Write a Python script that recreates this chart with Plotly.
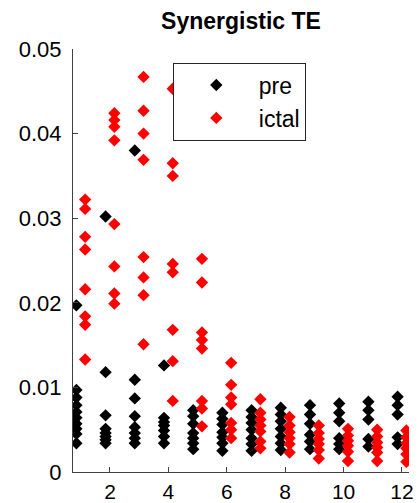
import plotly.graph_objects as go

groups = list(range(1, 13))

pre_values = [
    [0.0197, 0.0097, 0.0088, 0.0079, 0.0071, 0.0064, 0.0057, 0.0051, 0.0045, 0.0034],
    [0.0302, 0.0118, 0.0067, 0.0051, 0.0046, 0.0042, 0.0038, 0.0034],
    [0.0380, 0.0109, 0.0087, 0.0066, 0.0053, 0.0046, 0.0040, 0.0034],
    [0.0126, 0.0064, 0.0059, 0.0055, 0.0049, 0.0042, 0.0034],
    [0.0073, 0.0066, 0.0057, 0.0046, 0.0040, 0.0034, 0.0027],
    [0.0070, 0.0063, 0.0056, 0.0047, 0.0041, 0.0034, 0.0025],
    [0.0073, 0.0065, 0.0058, 0.0050, 0.0040, 0.0033, 0.0025],
    [0.0076, 0.0068, 0.0060, 0.0051, 0.0042, 0.0034, 0.0026],
    [0.0079, 0.0068, 0.0057, 0.0044, 0.0036, 0.0027],
    [0.0081, 0.0070, 0.0060, 0.0040, 0.0033, 0.0027],
    [0.0083, 0.0073, 0.0062, 0.0039, 0.0030],
    [0.0089, 0.0079, 0.0068, 0.0041, 0.0033],
]

ictal_values = [
    [0.0322, 0.0311, 0.0278, 0.0263, 0.0216, 0.0184, 0.0174, 0.0133],
    [0.0424, 0.0416, 0.0408, 0.0392, 0.0293, 0.0243, 0.0211, 0.0199],
    [0.0467, 0.0427, 0.0400, 0.0369, 0.0254, 0.0230, 0.0209, 0.0151],
    [0.0453, 0.0365, 0.0350, 0.0246, 0.0236, 0.0168, 0.0131, 0.0084],
    [0.0252, 0.0224, 0.0165, 0.0156, 0.0146, 0.0084, 0.0075, 0.0054],
    [0.0129, 0.0103, 0.0088, 0.0080, 0.0058, 0.0050, 0.0040],
    [0.0086, 0.0070, 0.0062, 0.0055, 0.0048, 0.0036, 0.0028],
    [0.0065, 0.0055, 0.0047, 0.0040, 0.0033, 0.0023],
    [0.0055, 0.0046, 0.0039, 0.0033, 0.0026, 0.0016],
    [0.0051, 0.0043, 0.0037, 0.0031, 0.0024, 0.0013],
    [0.0050, 0.0042, 0.0035, 0.0029, 0.0023, 0.0013],
    [0.0049, 0.0041, 0.0034, 0.0028, 0.0021, 0.0012],
]

x_ticks = [2, 4, 6, 8, 10, 12]
y_ticks = [0, 0.01, 0.02, 0.03, 0.04, 0.05]
y_tick_labels = ["0", "0.01", "0.02", "0.03", "0.04", "0.05"]

OFFSET = 0.15
FONT = "Arial, Liberation Sans, sans-serif"
AXIS_COLOR = "#404040"


def flatten(vals, shift):
    xs, ys = [], []
    for g, arr in zip(groups, vals):
        for v in arr:
            xs.append(g + shift)
            ys.append(v)
    return xs, ys


px, py = flatten(pre_values, -OFFSET)
ix, iy = flatten(ictal_values, OFFSET)

fig = go.Figure()
fig.add_trace(go.Scatter(x=px, y=py, mode="markers", name="pre",
                         marker=dict(symbol="diamond", size=9.5, color="black",
                                     line=dict(width=0))))
fig.add_trace(go.Scatter(x=ix, y=iy, mode="markers", name="ictal",
                         marker=dict(symbol="diamond", size=9.5, color="#ff0000",
                                     line=dict(width=0))))

fig.update_layout(
    width=418, height=503,
    margin=dict(l=73, r=9, t=49, b=31, autoexpand=False),
    paper_bgcolor="white", plot_bgcolor="white",
    font=dict(family=FONT, size=22, color="black"),
    title=dict(text="<b>Synergistic TE</b>", x=241 / 418, xanchor="center",
               y=1 - 21 / 503, yanchor="middle", yref="container",
               font=dict(size=23, family=FONT, color="black")),
    showlegend=True,
    legend=dict(x=0.297, y=0.968, xanchor="left", yanchor="top",
                bgcolor="white", bordercolor="#262626", borderwidth=1,
                font=dict(size=23, family=FONT), itemwidth=75,
                tracegroupgap=0),
    xaxis=dict(range=[0.734, 12.24], tickvals=x_ticks, ticks="inside", ticklen=5,
               tickcolor=AXIS_COLOR, showline=True, linecolor=AXIS_COLOR, linewidth=1,
               showgrid=False, zeroline=False, mirror=False, automargin=False,
               ticklabelstandoff=1,
               tickfont=dict(size=21, family=FONT)),
    yaxis=dict(range=[0, 0.05], tickvals=y_ticks, ticktext=y_tick_labels,
               ticks="inside", ticklen=5, tickcolor=AXIS_COLOR, showline=True,
               linecolor=AXIS_COLOR, linewidth=1, showgrid=False, zeroline=False,
               mirror=False, automargin=False, ticklabelstandoff=6,
               tickfont=dict(size=22, family=FONT)),
)

fig.write_html("out.html", config={"displayModeBar": False},
               post_script="document.body.style.margin='0';document.body.style.overflow='hidden';")
